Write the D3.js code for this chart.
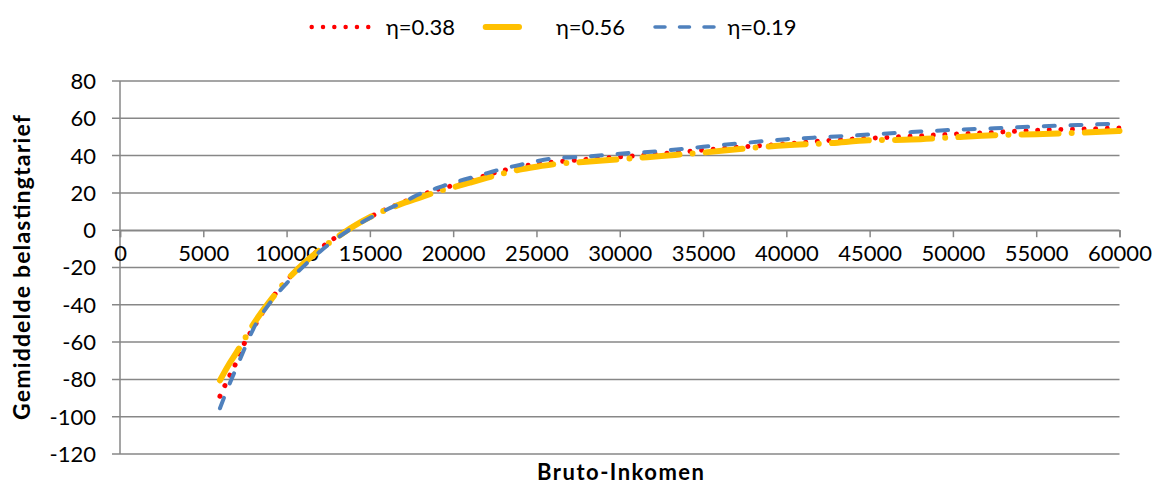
<!DOCTYPE html>
<html>
<head>
<meta charset="utf-8">
<script src="https://cdn.jsdelivr.net/npm/d3@7"></script>
<style>
  html, body { margin: 0; padding: 0; background: #fff; }
  svg { display: block; font-family: Lato, "Open Sans", sans-serif; }
</style>
</head>
<body>
<svg id="chart" width="1156" height="486"></svg>
<script>
// Gross income (x) and average tax rate (%) for three values of eta
const incomes = [6000, 6500, 7000, 7500, 8000, 9000, 10000, 11000, 12000, 13000, 14000, 15000,
  16000, 17000, 18000, 19000, 20000, 21000, 22000, 23000, 24000, 25000, 26000, 28000, 30000,
  32500, 35000, 37500, 40000, 42500, 45000, 47500, 50000, 52500, 55000, 57500, 60000];

const rateEta038 = [-89, -79.5, -70.5, -60, -52.5, -38, -27, -18, -10, -3.5, 2, 7,
  11.3, 15, 18.5, 21.7, 24, 26.5, 29.5, 32, 34, 35.5, 36.5, 38, 39.3,
  41, 43, 44.8, 46.3, 48.1, 49.3, 50.4, 51.5, 52.5, 53.6, 54.2, 54.8];

const rateEta056 = [-80.5, -72.5, -65.5, -58, -50.5, -38, -27, -18, -10.5, -4, 2, 7,
  11, 14.5, 17.5, 20.5, 23, 25.5, 28, 30.5, 32.5, 34, 35.3, 36.7, 38,
  39.8, 41.6, 43.8, 45.6, 46.6, 48.2, 48.6, 49.8, 50.9, 51.5, 52.2, 53.2];

const rateEta019 = [-95.5, -84, -73.5, -63, -53, -39, -28.5, -19.5, -11.5, -4.5, 1.5, 6.5,
  11, 15, 19.5, 22.5, 25.5, 28, 30.5, 33, 35, 37, 38.5, 39.5, 41,
  42.5, 44.7, 46.8, 48.8, 50, 51.3, 52.6, 53.8, 54.6, 55.6, 56.4, 57.2];

const seriesNames = ["η=0.38", "η=0.56", "η=0.19"];
const xTicks = [0, 5000, 10000, 15000, 20000, 25000, 30000, 35000, 40000, 45000, 50000, 55000, 60000];
const yTicks = [-120, -100, -80, -60, -40, -20, 0, 20, 40, 60, 80];

const svg = d3.select("#chart");
const plot = { left: 120, right: 1119.5, top: 81, bottom: 454 };
const gridColor = "#878787";
const fontFamily = "Lato, 'Open Sans', sans-serif";

const x = d3.scaleLinear().domain([0, 60000]).range([plot.left, plot.right]);
const y = d3.scaleLinear().domain([-120, 80]).range([plot.bottom, plot.top]);

// Horizontal gridlines with short ticks on the left
svg.append("g").selectAll("line").data(yTicks).join("line")
  .attr("x1", plot.left - 8).attr("x2", plot.right)
  .attr("y1", d => y(d)).attr("y2", d => y(d))
  .attr("stroke", gridColor).attr("stroke-width", 1.5);

// Vertical axis line
svg.append("line")
  .attr("x1", plot.left).attr("x2", plot.left)
  .attr("y1", plot.top).attr("y2", plot.bottom)
  .attr("stroke", gridColor).attr("stroke-width", 1.5);

// Y tick labels
svg.append("g").selectAll("text").data(yTicks).join("text")
  .attr("x", 96).attr("y", d => y(d))
  .attr("dy", "0.36em")
  .attr("text-anchor", "end")
  .attr("font-size", 22)
  .text(d => d);

// X axis sits on the zero line, ticks pointing down
const xAxis = d3.axisBottom(x).tickValues(xTicks).tickSize(7).tickPadding(8).tickFormat(d => d);
const gx = svg.append("g").attr("transform", `translate(0,${y(0)})`).call(xAxis);
gx.select(".domain").attr("stroke", gridColor).attr("stroke-width", 1.5);
gx.selectAll(".tick line").attr("stroke", gridColor).attr("stroke-width", 1.5);
gx.selectAll(".tick text")
  .attr("font-family", fontFamily)
  .attr("font-size", 22).attr("fill", "#000");

// Data lines
const line = d3.line()
  .x((d, i) => x(incomes[i]))
  .y(d => y(d))
  .curve(d3.curveMonotoneX);

const series = [
  { values: rateEta038, color: "#FF0000", width: 5, dash: "0.01 11.6", cap: "round" },
  { values: rateEta056, color: "#FFC000", width: 6, dash: "37 13.15 0 13.15", cap: "round" },
  { values: rateEta019, color: "#4F81BD", width: 4, dash: "11 15.7", cap: "round" }
];

svg.append("g").selectAll("path").data(series).join("path")
  .attr("d", d => line(d.values))
  .attr("fill", "none")
  .attr("stroke", d => d.color)
  .attr("stroke-width", d => d.width)
  .attr("stroke-dasharray", d => d.dash)
  .attr("stroke-linecap", d => d.cap);

// Legend
const legend = [
  { x1: 311.7, x2: 368.5, tx: 386, color: "#FF0000", width: 4.5, dash: "0.01 11.3" },
  { x1: 485.7, x2: 543.3, tx: 556, color: "#FFC000", width: 6, dash: "33.3 24.3 0 100" },
  { x1: 655, x2: 714, tx: 727.5, color: "#4F81BD", width: 3.5, dash: "10 14.5" }
];
const lg = svg.append("g");
lg.selectAll("path").data(legend).join("path")
  .attr("d", d => `M${d.x1},27H${d.x2}`)
  .attr("stroke", d => d.color)
  .attr("stroke-width", d => d.width)
  .attr("stroke-dasharray", d => d.dash)
  .attr("stroke-linecap", "round")
  .attr("fill", "none");
lg.selectAll("text").data(legend).join("text")
  .attr("x", d => d.tx).attr("y", 35)
  .attr("font-size", 22)
  .text((d, i) => seriesNames[i]);

// Axis titles
svg.append("text")
  .attr("transform", `translate(30,${(plot.top + plot.bottom) / 2}) rotate(-90)`)
  .attr("text-anchor", "middle")
  .attr("font-weight", "bold")
  .attr("font-size", 23)
  .attr("textLength", 305)
  .attr("lengthAdjust", "spacing")
  .text("Gemiddelde belastingtarief");

svg.append("text")
  .attr("x", 620.5).attr("y", 480)
  .attr("text-anchor", "middle")
  .attr("font-weight", "bold")
  .attr("font-size", 22)
  .attr("textLength", 167)
  .attr("lengthAdjust", "spacing")
  .text("Bruto-Inkomen");
</script>
</body>
</html>
